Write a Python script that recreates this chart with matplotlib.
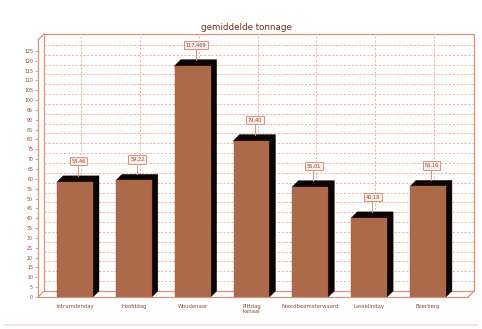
import matplotlib
matplotlib.use("Agg")
import matplotlib.pyplot as plt
from matplotlib.patches import Polygon, Rectangle
from matplotlib.lines import Line2D
import matplotlib.transforms as mtransforms

# --- data -------------------------------------------------------------
categories = ["Intrumdenday", "Hoofddag", "Woudenaar", "Pittdag\nkanaal",
              "Noordbeemsterwaard", "Lasselinday", "Boerberg"]
values = [58.46, 59.22, 117.47, 79.40, 56.01, 40.18, 56.16]
value_labels = ["58,46", "59,22", "117,469", "79,40", "56,01", "40,18", "56,16"]
y_ticks = list(range(0, 126, 5))
title = "gemiddelde tonnage"

# --- style --------------------------------------------------------------
BAR = "#AD6A4B"
SIDE = "#0b0605"
FRAME = "#D9947D"
GRID = "#EDB3A0"
TEXT = "#8A4A35"
DEPTH = 6  # px, extrusion depth of walls and bars

W, H, DPI = 482, 329, 100
fig = plt.figure(figsize=(W / DPI, H / DPI), dpi=DPI)
fig.patch.set_facecolor("white")

# front plane of the plot, in pixels
L, R, B, T = 38, 468, 297, 40
ax = fig.add_axes([L / W, 1 - B / H, (R - L) / W, (B - T) / H])
ax.set_facecolor("none")
for s in ax.spines.values():
    s.set_visible(False)

x = list(range(len(categories)))
ax.set_xlim(-0.63, 6.68)
ax.set_ylim(0, 130.5)

xpx = ax.bbox.width / (ax.get_xlim()[1] - ax.get_xlim()[0])
ypx = ax.bbox.height / (ax.get_ylim()[1] - ax.get_ylim()[0])
dx, dy = DEPTH / xpx, DEPTH / ypx

back = mtransforms.offset_copy(ax.transData, fig=fig, x=DEPTH * 0.72,
                               y=DEPTH * 0.72, units="points")
back_ax = mtransforms.offset_copy(ax.transAxes, fig=fig, x=DEPTH * 0.72,
                                  y=DEPTH * 0.72, units="points")


def fig_pt(px, py):
    return px / W, 1 - py / H


# back wall with its grid
ax.add_patch(Rectangle((0, 0), 1, 1, transform=back_ax, fill=False,
                       edgecolor=FRAME, lw=0.9, zorder=1, clip_on=False))
for t in y_ticks[1:]:
    ax.plot([-0.63, 6.68], [t, t], transform=back, color=GRID, lw=0.7,
            ls=(0, (2.2, 1.8)), zorder=1, clip_on=False)
for xi in x:
    ax.plot([xi, xi], [0, 130.5], transform=back, color=GRID, lw=0.7,
            ls=(0, (2.2, 1.8)), zorder=1, clip_on=False)

# front edges and joining diagonals of the box
for (x0, y0, x1, y1) in [(L, T, L, B), (L, B, R, B),
                         (L, T, L + DEPTH, T - DEPTH),
                         (L, B, L + DEPTH, B - DEPTH),
                         (R, B, R + DEPTH, B - DEPTH)]:
    a, b = fig_pt(x0, y0)
    c, d = fig_pt(x1, y1)
    fig.add_artist(Line2D([a, c], [b, d], color=FRAME, lw=0.9))

# bars with dark extrusion
w = 0.61
for xi, v in zip(x, values):
    x0, x1 = xi - w / 2, xi + w / 2
    ax.add_patch(Polygon([(x0, v), (x0 + dx, v + dy), (x1 + dx, v + dy),
                          (x1 + dx, dy), (x1, 0)], closed=True,
                         facecolor=SIDE, edgecolor=SIDE, lw=0.3, zorder=3))
ax.bar(x, values, width=w, color=BAR, edgecolor="#9a5a3e", lw=0.3, zorder=4)

# value labels
for xi, v, lab in zip(x, values, value_labels):
    ax.plot([xi + dx / 2, xi + dx / 2], [v + dy, v + 17 / ypx], color=FRAME,
            lw=0.7, zorder=5)
    ax.annotate(lab, (xi, v), xytext=(2.5, 15), textcoords="offset points",
                ha="center", va="center", fontsize=3.6, color=TEXT, zorder=6,
                bbox=dict(boxstyle="square,pad=0.35", fc="#fbeee8",
                          ec=FRAME, lw=0.7))

# axes ticks and labels
ax.set_yticks(y_ticks)
ax.set_yticklabels([str(t) for t in y_ticks], fontsize=3.4, color=TEXT)
ax.set_xticks(x)
ax.set_xticklabels(categories, fontsize=3.8, color=TEXT, linespacing=1.1)
ax.tick_params(axis="y", length=2, width=0.6, color=FRAME, pad=1.5)
ax.tick_params(axis="x", length=0, pad=5)

fig.text(246 / W, 1 - 27 / H, title, ha="center", va="center",
         fontsize=6.3, color="#6E2E18")

# thin rule along the bottom of the page
a, b = fig_pt(5, 325)
c, d = fig_pt(478, 325)
fig.add_artist(Line2D([a, c], [b, d], color="#F6DCDC", lw=1.2))

fig.savefig("out.png", dpi=DPI)
